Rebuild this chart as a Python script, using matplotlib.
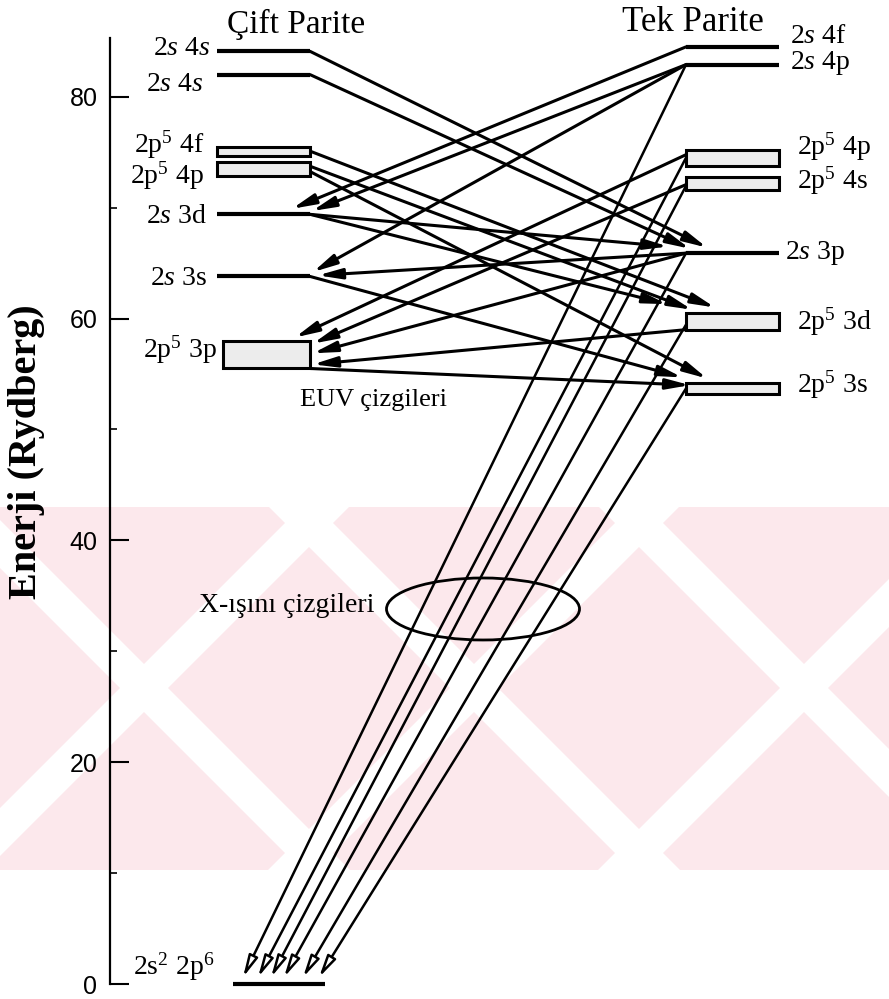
import matplotlib.pyplot as plt
from matplotlib.patches import Rectangle, Ellipse, Polygon

plt.rcParams['font.family'] = ['Liberation Serif', 'DejaVu Serif']
plt.rcParams['mathtext.fontset'] = 'custom'
plt.rcParams['mathtext.rm'] = 'Liberation Serif'
plt.rcParams['mathtext.it'] = 'Liberation Serif:italic'

# Çift parite seviyeleri (Rydberg) ve multiplet genişlikleri
cift_adlar = ['2$s$ 4$s$', '2$s$ 4$s$', '2p$^5$ 4f', '2p$^5$ 4p', '2$s$ 3d', '2$s$ 3s', '2p$^5$ 3p', '2s$^2$ 2p$^6$']
cift_E = [84.1, 82.0, 75.1, 73.5, 69.4, 63.8, 56.75, 0.0]
cift_gen = [0, 0, 0.8, 1.2, 0, 0, 2.5, 0]

# Tek parite seviyeleri
tek_adlar = ['2$s$ 4f', '2$s$ 4p', '2p$^5$ 4p', '2p$^5$ 4s', '2$s$ 3p', '2p$^5$ 3d', '2p$^5$ 3s']
tek_E = [84.5, 82.9, 74.5, 72.2, 65.9, 59.75, 53.7]
tek_gen = [0, 0, 1.4, 1.2, 0, 1.5, 1.0]

# geçişler (üst seviye, alt seviye); c = çift, t = tek
euv_gecis = [('c0', 't4'), ('c1', 't4'), ('t0', 'c4'), ('t1', 'c4'), ('t1', 'c5'),
             ('c2', 't5'), ('c3', 't5'), ('c3', 't6'), ('c4', 't4'), ('c4', 't5'),
             ('c5', 't6'), ('c6', 't6'), ('t2', 'c6'), ('t3', 'c6'), ('t4', 'c6'),
             ('t5', 'c6'), ('t4', 'c5')]
xray_gecis = [('t1', 'c7'), ('t2', 'c7'), ('t3', 'c7'), ('t4', 'c7'), ('t5', 'c7'), ('t6', 'c7')]

# çizim düzeni (başlangıç kesri, ok ucu x, bitiş kesri, ok ucu kaldırma)
euv_duzen = [(0.5, 707, 0.5, 0.5), (0.5, 690, 0.5, 0.4), (0.5, 292, 0.5, 0.5), (0.5, 312, 0.5, 0.3),
             (0.5, 313, 0.5, 0.4), (0.5, 715, 1.0, 0.5), (0.7, 692, 1.0, 0.3), (0.3, 707, 1.0, 0.4),
             (0.5, 668, 0.5, 0.6), (0.5, 667, 1.0, 0.8), (0.5, 682, 1.0, 0.5), (0.0, 690, 0.8, 0.0),
             (0.7, 295, 1.0, 0.3), (0.4, 313, 0.9, 0.0), (0.5, 313, 0.55, 0.0), (0.0, 313, 0.15, 0.0),
             (0.5, 318, 0.5, 0.1)]
xray_duzen = [(0.5, 243), (0.5, 258), (0.3, 271), (0.5, 284), (0.3, 303), (0.5, 319)]

sol_x = (217, 310)
sag_x = (686, 779)
taban_x = (233, 325)


def E(ypx):
    return (984 - ypx) / 11.09


def seviye(key):
    i = int(key[1:])
    if key[0] == 'c':
        return cift_E[i], cift_gen[i], 'c'
    return tek_E[i], tek_gen[i], 't'


def nokta(key, frac):
    e, g, s = seviye(key)
    return e - g / 2 + frac * g, s


def ok(x0, y0, x1, y1, lw=2.2, bos=False, ms=14):
    ax.annotate('', xy=(x1, y1), xytext=(x0, y0), annotation_clip=False,
                arrowprops=dict(arrowstyle='-|>,head_length=1.0,head_width=0.22',
                                mutation_scale=ms, lw=lw, ec='k',
                                fc='white' if bos else 'k', shrinkA=0, shrinkB=0))


fig = plt.figure(figsize=(8.89, 9.99), dpi=100)

# arka plandaki soluk filigran
bg = fig.add_axes([0, 0, 1, 1], zorder=-5)
bg.set_xlim(0, 889)
bg.set_ylim(999, 0)
bg.axis('off')
pembe = '#fce8ec'
bg.add_patch(Rectangle((0, 507), 889, 363, fc=pembe, ec='none'))
for c in [325, 655, 985]:
    bg.add_patch(Polygon([(c - 24, 507), (c + 24, 507), (c + 24 - 363, 870), (c - 24 - 363, 870)],
                         fc='white', ec='none'))
for d in [-37, 293, 623]:
    bg.add_patch(Polygon([(d - 24, 507), (d + 24, 507), (d + 24 + 363, 870), (d - 24 + 363, 870)],
                         fc='white', ec='none'))

ax = fig.add_axes([110 / 889, 15 / 999, 779 / 889, 946 / 999])
ax.set_xlim(110, 889)
ax.set_ylim(0, 85.3)
ax.patch.set_visible(False)
for s in ['top', 'right', 'bottom']:
    ax.spines[s].set_visible(False)
ax.spines['left'].set_linewidth(1.6)
ax.set_xticks([])
ax.set_yticks([0, 20, 40, 60, 80])
ax.set_yticks([10, 30, 50, 70], minor=True)
ax.tick_params(axis='y', which='major', direction='in', length=14, width=1.5, pad=9, labelsize=18)
ax.tick_params(axis='y', which='minor', direction='in', length=5, width=1.2)
for lab in ax.get_yticklabels():
    lab.set_family('Liberation Sans')

# EUV geçişleri
for (ust, alt), (fs, xs, fe, kal) in zip(euv_gecis, euv_duzen):
    y0, s0 = nokta(ust, fs)
    y1, s1 = nokta(alt, fe)
    x0 = sol_x[1] if s0 == 'c' else sag_x[0]
    ok(x0, y0, xs, y1 + kal)

# X-ışını geçişleri
for (ust, alt), (fs, xs) in zip(xray_gecis, xray_duzen):
    y0, _ = nokta(ust, fs)
    ok(sag_x[0], y0, xs, 0.6, lw=1.8, bos=True, ms=13)

# seviyeler
for i, (e, g) in enumerate(zip(cift_E, cift_gen)):
    x0, x1 = taban_x if e == 0 else sol_x
    if i == 6:
        x0 = 223
    if g > 0:
        ax.add_patch(Rectangle((x0, e - g / 2), x1 - x0, g, fc='#ececec', ec='k', lw=2.2, zorder=3))
    else:
        ax.plot([x0, x1], [e, e], color='k', lw=3, solid_capstyle='butt', zorder=3, clip_on=False)
for e, g in zip(tek_E, tek_gen):
    x0, x1 = sag_x
    if g > 0:
        ax.add_patch(Rectangle((x0, e - g / 2), x1 - x0, g, fc='#ececec', ec='k', lw=2.2, zorder=3))
    else:
        ax.plot([x0, x1], [e, e], color='k', lw=3, solid_capstyle='butt', zorder=3)

# seviye etiketleri
sol_etiket = [(210, 55), (203, 91), (204, 153), (204, 184), (207, 223), (207, 285), (217, 358)]
for ad, (x, y) in zip(cift_adlar[:7], sol_etiket):
    ax.text(x, E(y), ad, ha='right', va='baseline', fontsize=20)
ax.text(133, E(975), cift_adlar[7], ha='left', va='baseline', fontsize=20)
sag_etiket = [(790, 43), (790, 69), (797, 155), (797, 189), (785, 259), (797, 330), (797, 393)]
for ad, (x, y) in zip(tek_adlar, sag_etiket):
    ax.text(x, E(y), ad, ha='left', va='baseline', fontsize=20)

ax.text(296, E(33), 'Çift Parite', ha='center', va='baseline', fontsize=24)
ax.text(693, E(31), 'Tek Parite', ha='center', va='baseline', fontsize=25)
ax.text(300, E(406), 'EUV çizgileri', ha='left', va='baseline', fontsize=19)
ax.text(375, E(612), 'X-ışını çizgileri', ha='right', va='baseline', fontsize=20)
ax.add_patch(Ellipse((483, E(609)), 193, 62 / 11.09, fc='none', ec='k', lw=2, zorder=4))

fig.text(27 / 889, 1 - 452 / 999, 'Enerji (Rydberg)', rotation=90, ha='center', va='center',
         fontsize=29, fontweight='bold')

fig.savefig('out.png', dpi=100)
